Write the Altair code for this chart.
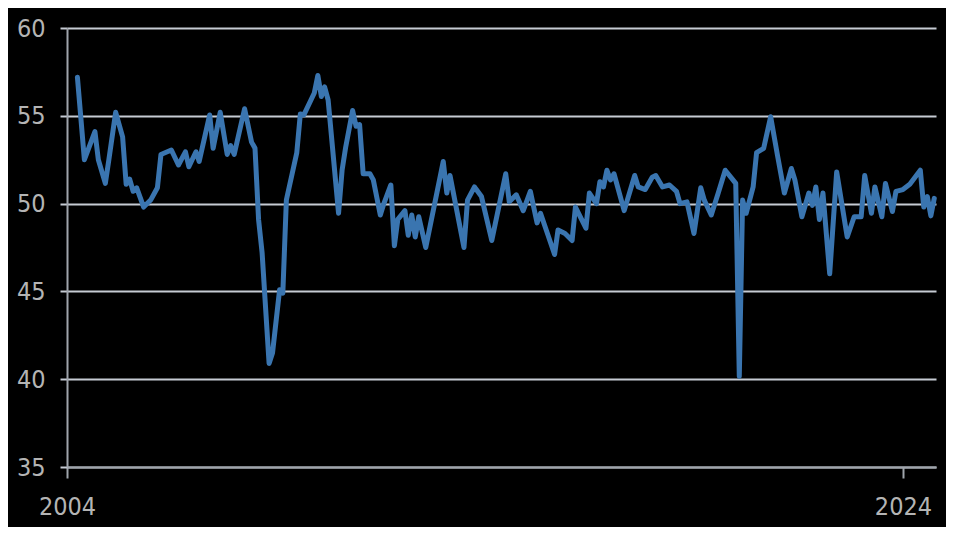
import altair as alt
import pandas as pd

# Monthly readings (vertices)
months = [
    "2004-04", "2004-06", "2004-09", "2004-10", "2004-12", "2005-01", "2005-03", "2005-05",
    "2005-06", "2005-07", "2005-08", "2005-09", "2005-11", "2006-01", "2006-03", "2006-04",
    "2006-07", "2006-09", "2006-11", "2006-12", "2007-02", "2007-03", "2007-06", "2007-07",
    "2007-09", "2007-11", "2007-12", "2008-01", "2008-04", "2008-06", "2008-07", "2008-08",
    "2008-09", "2008-11", "2008-12", "2009-02", "2009-03", "2009-04", "2009-07", "2009-08",
    "2009-09", "2009-12", "2010-01", "2010-02", "2010-03", "2010-04", "2010-07", "2010-08",
    "2010-09", "2010-11", "2010-12", "2011-01", "2011-02", "2011-04", "2011-05", "2011-07",
    "2011-08", "2011-10", "2011-11", "2011-12", "2012-02", "2012-03", "2012-04", "2012-05",
    "2012-06", "2012-08", "2013-01", "2013-02", "2013-03", "2013-07", "2013-08", "2013-10",
    "2013-12", "2014-03", "2014-07", "2014-08", "2014-10", "2014-12", "2015-02", "2015-04",
    "2015-05", "2015-09", "2015-10", "2015-12", "2016-02", "2016-03", "2016-06", "2016-07",
    "2016-09", "2016-10", "2016-11", "2016-12", "2017-01", "2017-02", "2017-05", "2017-08",
    "2017-09", "2017-11", "2018-01", "2018-02", "2018-04", "2018-06", "2018-08", "2018-09",
    "2018-11", "2019-01", "2019-03", "2019-04", "2019-06", "2019-08", "2019-10", "2020-01",
    "2020-02", "2020-03", "2020-04", "2020-06", "2020-07", "2020-09", "2020-11", "2021-01",
    "2021-03", "2021-05", "2021-06", "2021-08", "2021-10", "2021-11", "2021-12", "2022-01",
    "2022-02", "2022-04", "2022-06", "2022-09", "2022-11", "2023-01", "2023-02", "2023-04",
    "2023-05", "2023-07", "2023-08", "2023-10", "2023-11", "2024-01", "2024-03", "2024-06",
    "2024-07", "2024-08", "2024-09", "2024-10",
]
values = [
    57.2, 52.5, 54.1, 52.5, 51.15, 52.5, 55.2, 53.8,
    51.1, 51.4, 50.7, 50.9, 49.8, 50.2, 50.9, 52.8,
    53.05, 52.2, 52.95, 52.1, 52.95, 52.4, 55.05, 53.15,
    55.2, 52.8, 53.3, 52.8, 55.4, 53.5, 53.15, 49.1,
    47.2, 40.9, 41.5, 45.1, 44.9, 50.2, 52.9, 55.1,
    55.05, 56.3, 57.3, 56.1, 56.65, 55.9, 49.45, 51.9,
    53.2, 55.3, 54.4, 54.5, 51.7, 51.7, 51.35, 49.35,
    50.0, 51.06, 47.6, 49.1, 49.6, 48.2, 49.35, 48.1,
    49.25, 47.5, 52.4, 50.6, 51.6, 47.5, 50.2, 50.95,
    50.4, 47.9, 51.7, 50.1, 50.5, 49.6, 50.7, 48.9,
    49.45, 47.1, 48.5, 48.3, 47.9, 49.8, 48.6, 50.6,
    50.0, 51.25, 50.95, 51.9, 51.35, 51.7, 49.6, 51.6,
    50.95, 50.8, 51.5, 51.6, 50.95, 51.06, 50.7, 50.0,
    50.1, 48.3, 50.9, 50.2, 49.35, 50.6, 51.9, 51.15,
    40.15, 50.2, 49.45, 50.95, 52.9, 53.15, 54.95, 52.7,
    50.6, 52.0, 51.35, 49.25, 50.6, 49.9, 50.95, 49.1,
    50.6, 46.0, 51.8, 48.1, 49.25, 49.25, 51.6, 49.45,
    50.95, 49.25, 51.15, 49.55, 50.7, 50.8, 51.1, 51.9,
    49.8, 50.4, 49.3, 50.3,
]
y_ticks = [35, 40, 45, 50, 55, 60]
x_tick_years = [2004, 2024]

df = pd.DataFrame({"date": [m + "-01" for m in months], "value": values})

label_font = "DejaVu Sans Condensed, Liberation Sans Narrow, Liberation Sans, Roboto, sans-serif"
grid_col = "#c6cbd3"
axis_col = "#9fa4ab"
label_col = "#b4b4b4"

chart = (
    alt.Chart(df)
    .mark_line(color="#3a75b0", strokeWidth=5, strokeJoin="round", strokeCap="round")
    .encode(
        x=alt.X(
            "date:T",
            title=None,
            scale=alt.Scale(
                type="utc",
                domain=[
                    alt.DateTime(year=2004, month=1, date=1, utc=True),
                    alt.DateTime(year=2024, month=10, date=16, utc=True),
                ],
            ),
            axis=alt.Axis(
                values=[alt.DateTime(year=y, month=1, date=1, utc=True) for y in x_tick_years],
                format="%Y",
                formatType="utc",
                grid=False,
                domain=True,
                domainColor=axis_col,
                domainWidth=2,
                ticks=True,
                tickColor=axis_col,
                tickSize=11,
                tickWidth=2,
                labelFont=label_font,
                labelFontSize=25,
                labelColor=label_col,
                labelPadding=16,
                labelFlush=False,
            ),
        ),
        y=alt.Y(
            "value:Q",
            title=None,
            scale=alt.Scale(domain=[35, 60], nice=False, zero=False),
            axis=alt.Axis(
                values=y_ticks,
                grid=True,
                gridColor=grid_col,
                gridWidth=2,
                domain=True,
                domainColor=axis_col,
                domainWidth=2,
                ticks=True,
                tickColor=grid_col,
                tickSize=7,
                tickWidth=2,
                labelFont=label_font,
                labelFontSize=25,
                labelColor=label_col,
                labelPadding=15,
                labelFlush=False,
            ),
        ),
    )
    .properties(
        width=869,
        height=439,
        background="black",
        autosize=alt.AutoSizeParams(type="none"),
        padding={"left": 59, "top": 20, "right": 10, "bottom": 60},
    )
    .configure_view(stroke=None)
)

chart.save("out.html", embed_options={"renderer": "svg", "actions": False})
